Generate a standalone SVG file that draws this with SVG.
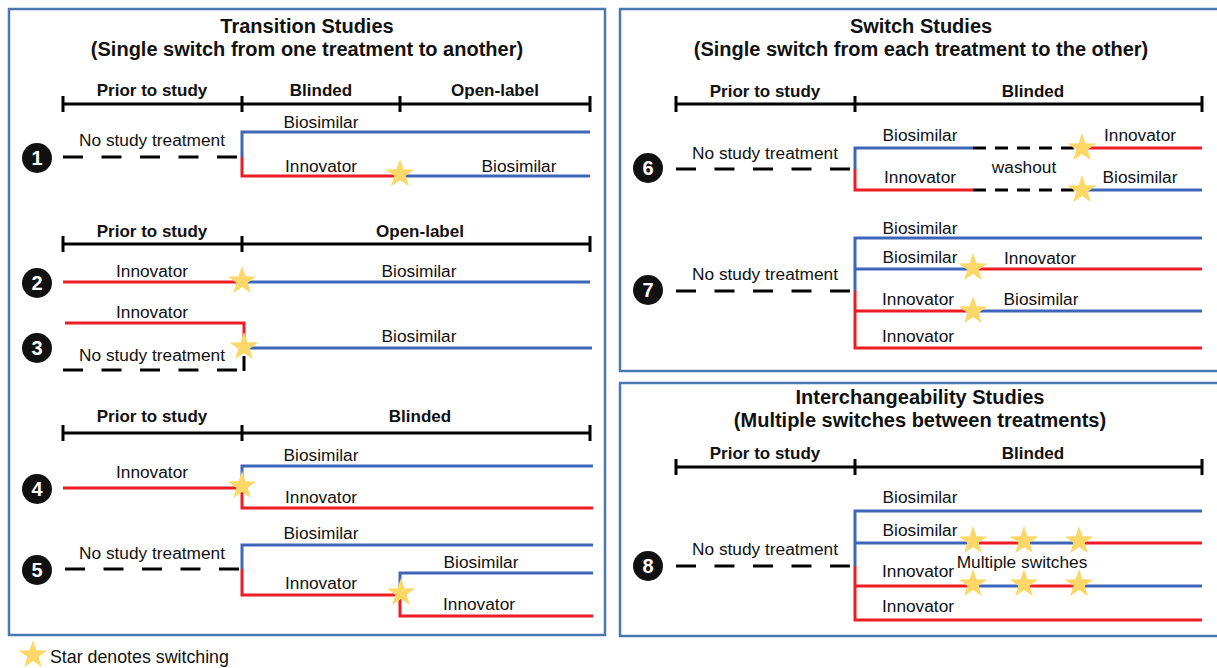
<svg xmlns="http://www.w3.org/2000/svg" xmlns:xlink="http://www.w3.org/1999/xlink" width="1217" height="668" viewBox="0 0 1217 668">
<style>
text{font-family:"Liberation Sans",Arial,sans-serif;fill:#111}
.t{font-size:20px;font-weight:bold;text-anchor:middle}
.h{font-size:17px;font-weight:bold;text-anchor:middle}
.l{font-size:17.3px;text-anchor:middle}
.n{font-size:20px;font-weight:bold;fill:#fff;text-anchor:middle}
.panel{fill:#fff;stroke:#4a78b0;stroke-width:2.5}
.tl{stroke:#000;stroke-width:3;fill:none}
.b{stroke:#3e66b8;stroke-width:3;fill:none}
.r{stroke:#ee1c25;stroke-width:3;fill:none}
.d{stroke:#000;stroke-width:3;fill:none;stroke-dasharray:20,18.5}
.dw{stroke:#000;stroke-width:3;fill:none;stroke-dasharray:13,9}
.bl{stroke:#000;stroke-width:3;fill:none}
</style>
<defs>
<polygon id="star" points="0,-15 3.5,-4.8 14.3,-4.6 5.7,1.8 8.8,12.1 0,6 -8.8,12.1 -5.7,1.8 -14.3,-4.6 -3.5,-4.8" fill="#fdd869"/>
</defs>
<rect width="1217" height="668" fill="#fff"/>
<g id="panels">
<rect class="panel" x="9" y="9" width="596" height="626"/>
<rect class="panel" x="620" y="9" width="600" height="362"/>
<rect class="panel" x="620" y="383" width="600" height="253"/>
</g>
<g id="titles">
<text class="t" x="307" y="33">Transition Studies</text>
<text class="t" x="307" y="56">(Single switch from one treatment to another)</text>
<text class="t" x="921" y="33">Switch Studies</text>
<text class="t" x="921" y="56">(Single switch from each treatment to the other)</text>
<text class="t" x="920" y="404">Interchangeability Studies</text>
<text class="t" x="920" y="427">(Multiple switches between treatments)</text>
</g>
<g id="timelines">
<path class="tl" d="M63,104H590M63,96V112M242,96V112M400,96V112M590,96V112"/>
<text class="h" x="152" y="96">Prior to study</text>
<text class="h" x="321" y="96">Blinded</text>
<text class="h" x="495" y="96">Open-label</text>
<path class="tl" d="M63,244H590M63,236V252M242,236V252M590,236V252"/>
<text class="h" x="152" y="237">Prior to study</text>
<text class="h" x="420" y="237">Open-label</text>
<path class="tl" d="M63,433H590M63,425V441M242,425V441M590,425V441"/>
<text class="h" x="152" y="422">Prior to study</text>
<text class="h" x="420" y="422">Blinded</text>
<path class="tl" d="M676,104H1202M676,96V112M855,96V112M1202,96V112"/>
<text class="h" x="765" y="97">Prior to study</text>
<text class="h" x="1033" y="97">Blinded</text>
<path class="tl" d="M676,467H1202M676,459V475M855,459V475M1202,459V475"/>
<text class="h" x="765" y="459">Prior to study</text>
<text class="h" x="1033" y="459">Blinded</text>
</g>
<g id="connectors">
<path class="d" d="M63,157H242"/>
<path class="b" d="M242,157V132H590"/>
<path class="r" d="M242,157V176H400"/>
<path class="b" d="M400,176H590"/>
<path class="r" d="M63,282H242"/>
<path class="b" d="M242,282H590"/>
<path class="r" d="M65,323H244V348"/>
<path class="d" d="M63,370H240"/>
<path class="bl" d="M244,356V371"/>
<path class="b" d="M244,348H592"/>
<path class="r" d="M63,488H242"/>
<path class="b" d="M242,488V466H593"/>
<path class="r" d="M242,488V508H593"/>
<path class="d" d="M65,569H242"/>
<path class="b" d="M242,569V545H593"/>
<path class="r" d="M242,569V595H400"/>
<path class="b" d="M400,595V573H593"/>
<path class="r" d="M400,595V616H593"/>
<path class="d" d="M676,169H855"/>
<path class="b" d="M855,169V148H973"/>
<path class="dw" d="M973,148H1082"/>
<path class="r" d="M1082,148H1202"/>
<path class="r" d="M855,169V190H973"/>
<path class="dw" d="M973,190H1082"/>
<path class="b" d="M1082,190H1202"/>
<path class="d" d="M676,291H855"/>
<path class="b" d="M855,291V238H1202"/>
<path class="b" d="M855,269H973"/>
<path class="r" d="M973,269H1202"/>
<path class="r" d="M855,291V348H1202"/>
<path class="r" d="M855,311H973"/>
<path class="b" d="M973,311H1202"/>
<path class="d" d="M676,566H855"/>
<path class="b" d="M855,566V511H1202"/>
<path class="b" d="M855,543H973"/>
<path class="r" d="M973,543H1024"/>
<path class="b" d="M1024,543H1079"/>
<path class="r" d="M1079,543H1202"/>
<path class="r" d="M855,566V620H1202"/>
<path class="r" d="M855,586H973"/>
<path class="b" d="M973,586H1024"/>
<path class="r" d="M1024,586H1079"/>
<path class="b" d="M1079,586H1202"/>
</g>
<g id="stars">
<use xlink:href="#star" x="400" y="174"/>
<use xlink:href="#star" x="242" y="281"/>
<use xlink:href="#star" x="244" y="347"/>
<use xlink:href="#star" x="242" y="486"/>
<use xlink:href="#star" x="401" y="593"/>
<use xlink:href="#star" x="1082" y="148"/>
<use xlink:href="#star" x="1082" y="190"/>
<use xlink:href="#star" x="973" y="268"/>
<use xlink:href="#star" x="973" y="311"/>
<use xlink:href="#star" x="973" y="541"/>
<use xlink:href="#star" x="1024" y="541"/>
<use xlink:href="#star" x="1079" y="541"/>
<use xlink:href="#star" x="973" y="584"/>
<use xlink:href="#star" x="1024" y="584"/>
<use xlink:href="#star" x="1079" y="584"/>
<use xlink:href="#star" x="33" y="655"/>
</g>
<g id="labels">
<text class="l" x="321" y="128">Biosimilar</text>
<text class="l" x="152" y="146">No study treatment</text>
<text class="l" x="321" y="172">Innovator</text>
<text class="l" x="519" y="172">Biosimilar</text>
<text class="l" x="152" y="277">Innovator</text>
<text class="l" x="419" y="277">Biosimilar</text>
<text class="l" x="152" y="318">Innovator</text>
<text class="l" x="419" y="342">Biosimilar</text>
<text class="l" x="152" y="361">No study treatment</text>
<text class="l" x="152" y="478">Innovator</text>
<text class="l" x="321" y="461">Biosimilar</text>
<text class="l" x="321" y="503">Innovator</text>
<text class="l" x="152" y="559">No study treatment</text>
<text class="l" x="321" y="539">Biosimilar</text>
<text class="l" x="321" y="589">Innovator</text>
<text class="l" x="481" y="568">Biosimilar</text>
<text class="l" x="479" y="610">Innovator</text>
<text class="l" x="765" y="159">No study treatment</text>
<text class="l" x="920" y="141">Biosimilar</text>
<text class="l" x="1140" y="141">Innovator</text>
<text class="l" x="920" y="183">Innovator</text>
<text class="l" x="1024" y="173">washout</text>
<text class="l" x="1140" y="183">Biosimilar</text>
<text class="l" x="765" y="280">No study treatment</text>
<text class="l" x="920" y="234">Biosimilar</text>
<text class="l" x="920" y="263">Biosimilar</text>
<text class="l" x="1040" y="264">Innovator</text>
<text class="l" x="918" y="305">Innovator</text>
<text class="l" x="1041" y="305">Biosimilar</text>
<text class="l" x="918" y="342">Innovator</text>
<text class="l" x="765" y="555">No study treatment</text>
<text class="l" x="920" y="503">Biosimilar</text>
<text class="l" x="920" y="536">Biosimilar</text>
<text class="l" x="918" y="577">Innovator</text>
<text class="l" x="1022" y="568">Multiple switches</text>
<text class="l" x="918" y="612">Innovator</text>
<text class="l" x="50" y="663" style="text-anchor:start;font-size:17.8px">Star denotes switching</text>
</g>
<g id="badges">
<g id="n1"><circle cx="37" cy="158" r="15" fill="#111"/><text class="n" x="37" y="165">1</text></g>
<g id="n2"><circle cx="37" cy="283" r="15" fill="#111"/><text class="n" x="37" y="290">2</text></g>
<g id="n3"><circle cx="37" cy="348" r="15" fill="#111"/><text class="n" x="37" y="355">3</text></g>
<g id="n4"><circle cx="37" cy="489" r="15" fill="#111"/><text class="n" x="37" y="496">4</text></g>
<g id="n5"><circle cx="37" cy="570" r="15" fill="#111"/><text class="n" x="37" y="577">5</text></g>
<g id="n6"><circle cx="648" cy="168" r="15" fill="#111"/><text class="n" x="648" y="175">6</text></g>
<g id="n7"><circle cx="648" cy="290" r="15" fill="#111"/><text class="n" x="648" y="297">7</text></g>
<g id="n8"><circle cx="648" cy="566" r="15" fill="#111"/><text class="n" x="648" y="573">8</text></g>
</g>
</svg>
